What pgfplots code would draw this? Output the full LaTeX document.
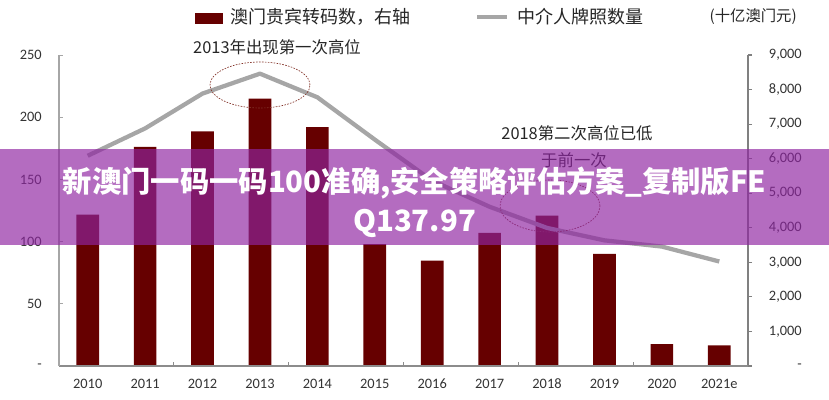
\documentclass[border=0pt]{standalone}
\usepackage{fontspec}
\setmainfont{Carlito}
\newfontfamily\cjk{Noto Sans CJK SC}
\usepackage{pgfplots}
\pgfplotsset{compat=1.18}
\definecolor{barred}{RGB}{102,0,0}
\definecolor{linegray}{RGB}{166,166,166}
\definecolor{bannerpurple}{RGB}{143,36,161}
\definecolor{ovalred}{RGB}{130,50,40}

\begin{document}
\begin{tikzpicture}
\useasboundingbox (0,0) rectangle (621.75pt,300pt);
\pgfplotsset{
  base/.style={scale only axis, width=516.75pt, height=233.25pt,
    at={(44.25pt,25.5pt)}, anchor=south west,
    xmin=-0.5, xmax=11.5, enlargelimits=false,
    tick label style={font=\fontsize{10.8}{12}\selectfont, text=black!80,
      /pgf/number format/assume math mode=true},
    axis line style={-},
  }
}
% bars: right axis
\begin{axis}[base,
  axis x line=none, axis y line*=right,
  ymin=0, ymax=9000, ybar, bar width=17pt,
  xtick=\empty,
  ytick={0,1000,...,9000},
  yticklabels={{-\hspace{21pt}},{1,000},{2,000},{3,000},{4,000},{5,000},{6,000},{7,000},{8,000},{9,000}},
  tick align=outside, major tick length=3pt,
  y axis line style={draw=black!50, line width=1pt},
  ytick style={draw=black!50, line width=0.8pt},
  yticklabel style={anchor=east, inner sep=0pt, xshift=37.5pt},
]
\addplot[fill=barred, draw=none] coordinates {
  (0,4380) (1,6340) (2,6790) (3,7740) (4,6910) (5,3530)
  (6,3050) (7,3855) (8,4350) (9,3245) (10,630) (11,600)};
\end{axis}
% line: left axis
\begin{axis}[base,
  axis x line*=bottom, axis y line*=left,
  ymin=0, ymax=250,
  xtick={0,...,11},
  xticklabels={2010,2011,2012,2013,2014,2015,2016,2017,2018,2019,2020,2021e},
  minor xtick={1.5,3.5,5.5,7.5,9.5},
  major x tick style={draw=none},
  minor x tick style={draw=black!45, line width=0.7pt},
  ytick={0,50,...,250},
  yticklabels={{-\hspace{6.75pt}},50,100,150,200,250},
  tick align=inside, major tick length=3pt, minor tick length=3.2pt,
  y axis line style={draw=black!35, line width=0.8pt},
  ytick style={draw=black!35, line width=0.7pt},
  x axis line style={draw=black!45, line width=0.9pt},
  yticklabel style={anchor=east, inner sep=0pt, xshift=-12.75pt},
  xticklabel style={anchor=center, inner sep=0pt, yshift=-13.5pt},
]
\addplot[linegray, line width=3.2pt, line join=round, mark=none] coordinates {
  (0,169) (1,191) (2,219) (3,235) (4,216) (5,182)
  (6,149) (7,128) (8,111) (9,101) (10,96) (11,84)};
\end{axis}
% annotations
\draw[ovalred, line width=0.5pt, dash pattern=on 1.2pt off 1pt]
  (195pt,236.25pt) ellipse [x radius=37.5pt, y radius=17.25pt];
\draw[ovalred, line width=0.5pt, dash pattern=on 1.2pt off 1pt]
  (412.5pt,145.5pt) ellipse [x radius=37.5pt, y radius=19.5pt];
\node[font=\cjk\fontsize{12.3}{14}\selectfont, text=black!85, inner sep=0pt]
  at (207.75pt,264.75pt) {2013年出现第一次高位};
\node[font=\cjk\fontsize{12.3}{14}\selectfont, text=black!85, inner sep=0pt]
  at (432.75pt,200.25pt) {2018第二次高位已低};
\node[font=\cjk\fontsize{12.3}{14}\selectfont, text=black!85, inner sep=0pt]
  at (430.5pt,180pt) {于前一次};
% legend
\fill[barred] (146.25pt,282pt) rectangle (167.25pt,290.25pt);
\node[anchor=west, font=\cjk\fontsize{13.5}{16}\selectfont, text=black!85, inner sep=0pt]
  at (172.5pt,287.25pt) {澳门贵宾转码数，右轴};
\draw[linegray, line width=3pt] (357.75pt,287.25pt) -- (380.25pt,287.25pt);
\node[anchor=west, font=\cjk\fontsize{13.5}{16}\selectfont, text=black!85, inner sep=0pt]
  at (387.75pt,287.25pt) {中介人牌照数量};
\node[anchor=east, font=\cjk\fontsize{11.5}{14}\selectfont, text=black!85, inner sep=0pt]
  at (597.75pt,287.25pt) {(十亿澳门元)};
% banner overlay
\fill[bannerpurple, fill opacity=0.67] (0pt,116.25pt) rectangle (621.75pt,188.25pt);
\node[text=white, align=center, font=\cjk\bfseries\fontsize{22}{29}\selectfont, inner sep=0pt]
  at (310.9pt,148.1pt) {新澳门一码一码100准确,安全策略评估方案\_复制版FE\\Q137.97};
\end{tikzpicture}
\end{document}
